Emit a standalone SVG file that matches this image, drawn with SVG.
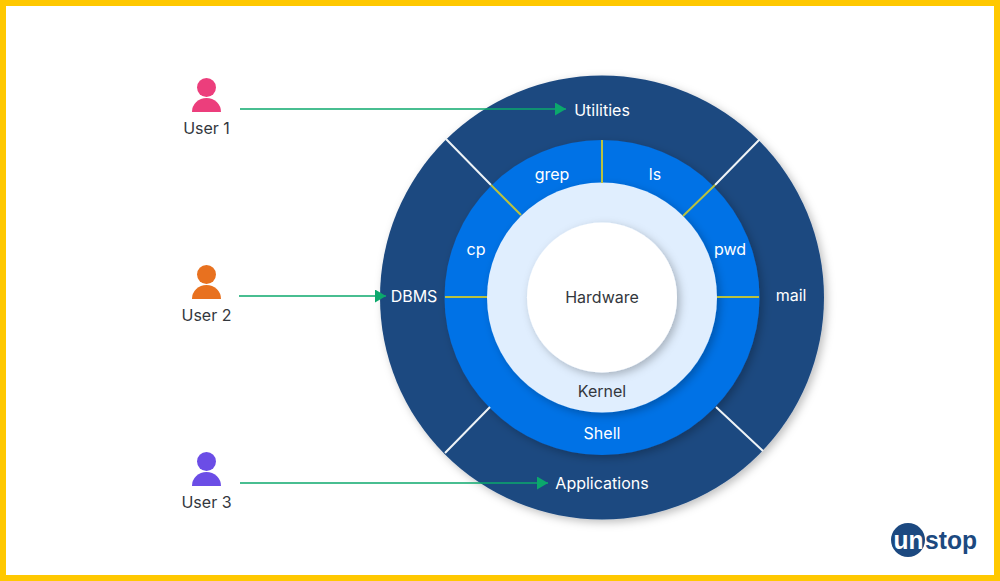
<svg xmlns="http://www.w3.org/2000/svg" width="1000" height="581" viewBox="0 0 1000 581">
<style>
text{font-family:"Inter","Liberation Sans",sans-serif;font-size:16px;text-anchor:middle}
.w{fill:#fff}.d{fill:#33373d}
.y{stroke:#b9c13f;stroke-width:2;fill:none}
.wl{stroke:#eef3f6;stroke-width:2;fill:none}
.g{stroke:#0ba86c;stroke-width:1.600;fill:none;marker-end:url(#arr)}
.lg{font-family:"Liberation Sans",sans-serif;font-size:26px;font-weight:700;text-anchor:start}
</style>
<defs>
<marker id="arr" markerUnits="userSpaceOnUse" markerWidth="12" markerHeight="13" refX="11" refY="6.500" orient="auto"><path d="M0 0L11 6.500L0 13Z" fill="#0ba86c"/></marker>
<filter id="sh" x="-20%" y="-20%" width="140%" height="140%"><feDropShadow dx="3" dy="3" stdDeviation="4" flood-color="#000" flood-opacity="0.25"/></filter>
</defs>
<rect width="1000" height="581" fill="#fff"/>
<rect x="3" y="3" width="994" height="575" fill="none" stroke="#ffc800" stroke-width="6"/>
<g id="ring-outer"><circle cx="602" cy="297.500" r="222" fill="#1c4980" filter="url(#sh)"/></g>
<g id="ring-shell"><circle cx="602" cy="297.500" r="157.500" fill="#0472e6" filter="url(#sh)"/></g>
<g id="ring-kernel"><circle cx="602" cy="297.500" r="115" fill="#e0eefe" filter="url(#sh)"/></g>
<g id="hardware"><circle cx="602" cy="297.500" r="75" fill="#fff" filter="url(#sh)"/><text class="d" x="602" y="302.500">Hardware</text></g>
<g id="connectors">
<path class="wl" d="M446 139L491 185M760 139L715 185M716 407L763 451M490 407L445 453"/>
<path class="y" d="M491 185L521 215M715 185L683 216M602 140V183M445 297H487M717 297H759"/>
<path class="g" d="M240 109H566"/>
<path class="g" d="M239 296H386"/>
<path class="g" d="M240 483H548"/>
</g>
<g id="utilities"><text class="w" x="602" y="115.500">Utilities</text></g>
<g id="grep"><text class="w" x="552" y="180">grep</text></g>
<g id="ls"><text class="w" x="655" y="180">ls</text></g>
<g id="cp"><text class="w" x="476" y="255">cp</text></g>
<g id="pwd"><text class="w" x="730" y="255">pwd</text></g>
<g id="dbms"><text class="w" x="414" y="301.500">DBMS</text></g>
<g id="mail"><text class="w" x="791" y="301">mail</text></g>
<g id="kernel"><text class="d" x="602" y="396.500">Kernel</text></g>
<g id="shell"><text class="w" x="602" y="438.500">Shell</text></g>
<g id="applications"><text class="w" x="602" y="488.500">Applications</text></g>
<g id="user1"><circle cx="206.500" cy="87.500" r="9.500" fill="#ec3e7c"/><path d="M192 112A14.500 14 0 0 1 221 112Z" fill="#ec3e7c"/><text class="d" x="206.500" y="133.500">User 1</text></g>
<g id="user2"><circle cx="206.500" cy="274.500" r="9.500" fill="#e8711f"/><path d="M192 299A14.500 14 0 0 1 221 299Z" fill="#e8711f"/><text class="d" x="206.500" y="320.500">User 2</text></g>
<g id="user3"><circle cx="206.500" cy="461.500" r="9.500" fill="#6b4de6"/><path d="M192 486A14.500 14 0 0 1 221 486Z" fill="#6b4de6"/><text class="d" x="206.500" y="508">User 3</text></g>
<g id="logo"><circle cx="908" cy="540" r="17" fill="#1c4980"/>
<text class="lg" x="893.500" y="549" fill="#fff" textLength="30" lengthAdjust="spacingAndGlyphs">un</text>
<text class="lg" x="925" y="549" fill="#1c4980" textLength="52" lengthAdjust="spacingAndGlyphs">stop</text></g>
</svg>
